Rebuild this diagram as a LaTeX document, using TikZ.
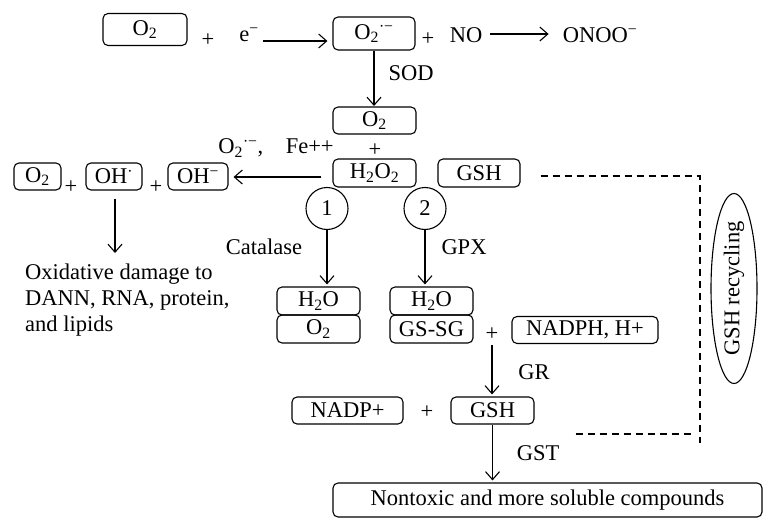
\documentclass[tikz,border=0pt]{standalone}
\usepackage{fontspec}
\setmainfont{Liberation Serif}
\usetikzlibrary{arrows.meta,shapes.geometric,calc}
\begin{document}
\begin{tikzpicture}[x=1pt,y=-1pt,
  every node/.style={font=\fontsize{22.5}{26}\selectfont},
  bx/.style={draw,rounded corners=5pt,line width=1.1pt,inner sep=0pt},
  txt/.style={inner sep=0pt},
  circ/.style={draw,circle,minimum size=42pt,inner sep=0pt,line width=1.1pt},
  arr/.style={-{Straight Barb[length=8pt,width=14pt]},line width=1.1pt},
  dsh/.style={line width=1.1pt,dash pattern=on 7.5pt off 4.5pt}]
\fill[white] (0,0) rectangle (778,532);
\useasboundingbox (0,0) rectangle (778,532);
% top row
\node[bx,minimum width=84pt,minimum height=32pt] (o2a) at (145,29.5) {O\textsubscript{2}};
\node[txt] (p1) at (208,40) {+};
\node[txt] (e) at (249,35) {e\textsuperscript{−}};
\node[bx,minimum width=82pt,minimum height=33pt] (sup) at (374,33.5) {O\textsubscript{2}\textsuperscript{·−}};
\node[txt] (p2) at (428,39) {+};
\node[txt] (no) at (466,35) {NO};
\node[txt] (onoo) at (600,35) {ONOO\textsuperscript{−}};
\coordinate (ea) at ($(e.east)+(0,6)$);
\draw[arr] ($(ea)+(4,0)$) -- ($(ea -| sup.west)+(-5,0)$);
\draw[arr] ($(no.east)+(8,-1)$) -- ($(onoo.west)+(-14,-1)$);
\draw[arr] (sup.south) -- ($(sup.south |- 0,107)+(0,-1)$);
\node[txt] (sod) at (411,73) {SOD};
% middle
\node[bx,minimum width=83pt,minimum height=27pt] (o2b) at (374.5,120.5) {O\textsubscript{2}};
\node[txt] (p5) at (375,150) {+};
\node[txt] (fe) at (276,148) {O\textsubscript{2}\textsuperscript{·−},\quad Fe++};
\node[bx,minimum width=83pt,minimum height=28pt] (h2o2) at (374.5,173) {H\textsubscript{2}O\textsubscript{2}};
\node[bx,minimum width=82pt,minimum height=28pt] (gsh1) at (479,173) {GSH};
% left group
\node[bx,minimum width=47pt,minimum height=27pt] (lo2) at (37.5,176.5) {O\textsubscript{2}};
\node[txt] (p3) at (71,187) {+};
\node[bx,minimum width=56pt,minimum height=27pt] (oh) at (114,176.5) {OH\textsuperscript{·}};
\node[txt] (p4) at (156,187) {+};
\node[bx,minimum width=60pt,minimum height=27pt] (ohm) at (198,176.5) {OH\textsuperscript{−}};
\draw[arr] ($(h2o2.west)+(-11,4)$) -- ($(ohm.east)+(5,0.5)$);
\coordinate (dmg) at (115,253);
\draw[arr] ($(oh.south)+(1,8)$) -- (dmg);
\node[txt,align=left,anchor=north west] (ox) at (25,264) {Oxidative damage to\\DANN, RNA, protein,\\and lipids};
% branches
\node[circ] (c1) at (327,208.5) {1};
\node[circ] (c2) at (425,208.5) {2};
\node[txt] (cat) at (264,247) {Catalase};
\node[txt] (gpx) at (464,247) {GPX};
\node[bx,minimum width=83pt,minimum height=28pt] (h2oL) at (318.5,301) {H\textsubscript{2}O};
\node[bx,minimum width=83pt,minimum height=28pt] (o2L) at (318.5,329) {O\textsubscript{2}};
\node[bx,minimum width=83pt,minimum height=28pt] (h2oR) at (431.5,301) {H\textsubscript{2}O};
\node[bx,minimum width=83pt,minimum height=28pt] (gssg) at (431.5,329) {GS-SG};
\draw[arr] (c1.south) -- ($(c1.south |- h2oL.north)+(0,-2)$);
\draw[arr] (c2.south) -- ($(c2.south |- h2oR.north)+(0,-2)$);
% lower
\node[txt] (p6) at (492,334) {+};
\node[bx,minimum width=146pt,minimum height=27pt] (nadph) at (585,330) {NADPH, H+};
\node[txt] (gr) at (534,372) {GR};
\node[bx,minimum width=111pt,minimum height=27pt] (nadp) at (347.5,410.5) {NADP+};
\node[txt] (p7) at (427,412) {+};
\node[bx,minimum width=83pt,minimum height=27pt] (gsh2) at (492.5,410.5) {GSH};
\node[txt] (gst) at (538,453) {GST};
\node[bx,minimum width=429pt,minimum height=34pt] (nt) at (547.5,500) {Nontoxic and more soluble compounds};
\draw[arr] ($(p6.south)+(0,4)$) -- ($(p6.south |- gsh2.north)+(0,-2)$);
\draw[arr] (gsh2.south) -- ($(gsh2.south |- nt.north)+(0,-2)$);
% recycling
\node[draw,ellipse,rotate=90,minimum width=167pt,minimum height=46pt,inner sep=0pt,line width=1.1pt] (rec) at (734,288.5) {GSH recycling};
\coordinate (d1) at (700,176);
\coordinate (d2) at (700,443);
\coordinate (d3) at (695,434);
\draw[dsh] ($(gsh1.east)+(20,3)$) -- (d1) -- (d2);
\draw[dsh] ($(gsh2.east)+(41,23.5)$) -- (d3);
\end{tikzpicture}
\end{document}
